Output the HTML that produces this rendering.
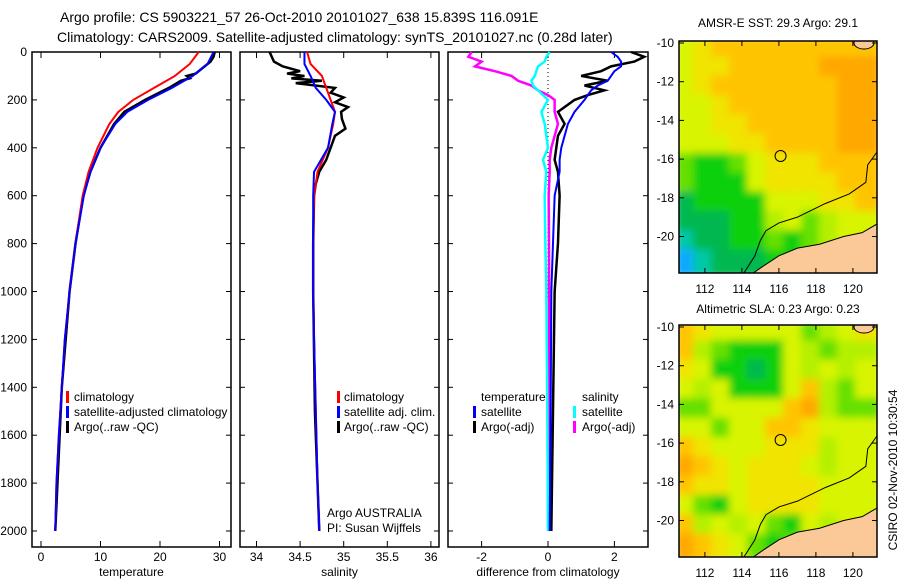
<!DOCTYPE html>
<html><head><meta charset="utf-8"><style>
body{margin:0;background:#fff}
svg{display:block;font-family:"Liberation Sans",sans-serif}
</style></head><body>
<svg id="s" width="900" height="580" viewBox="0 0 900 580">
<defs>
<clipPath id="c1"><rect x="679" y="41" width="198" height="232"/></clipPath>
<clipPath id="c2"><rect x="679" y="325" width="198" height="232"/></clipPath>
<clipPath id="cp1"><rect x="32" y="52" width="199" height="495"/></clipPath>
<filter id="bl"><feGaussianBlur stdDeviation="4"/></filter>
</defs>
<text x="60" y="22" font-size="14">Argo profile: CS 5903221_57 26-Oct-2010 20101027_638 15.839S 116.091E</text>
<text x="57" y="42" font-size="14">Climatology: CARS2009. Satellite-adjusted climatology: synTS_20101027.nc (0.28d later)</text>
<text x="778" y="27" font-size="12" text-anchor="middle">AMSR-E SST: 29.3 Argo: 29.1</text>
<text x="778" y="313" font-size="12" text-anchor="middle">Altimetric SLA: 0.23 Argo: 0.23</text>
<text transform="translate(897,470) rotate(-90)" font-size="12" text-anchor="middle">CSIRO 02-Nov-2010 10:30:54</text>
</svg>
<script>
const depthT=[0,50,100,150,200,250,300,400,500,600,800,1000,1200,1400,1600,1800,2000];
const tClim=[26.5,25,22.5,19,15.5,13,11.5,9.5,8,7,5.8,4.8,4,3.5,3,2.6,2.4];
const tSat=[29,28,25.5,22,18,14.5,12.5,10,8.3,7.2,5.8,4.8,4,3.5,3,2.6,2.4];
const depthTA=[0,20,40,60,90,100,110,120,150,200,250,300,400,500,600,800,1000,1400,2000];
const tArgo=[29.2,29,28.5,27.5,26,24.5,25,23.5,21.5,17.5,14,12.3,10,8.3,7.1,5.8,4.8,3.5,2.4];
const depthS=[0,50,100,150,200,250,300,400,500,600,800,1000,1200,1500,1800,2000];
const sClim=[34.58,34.62,34.75,34.8,34.85,34.9,34.88,34.82,34.7,34.66,34.65,34.65,34.66,34.68,34.7,34.72];
const sSat=[34.55,34.55,34.62,34.68,34.8,34.9,34.87,34.82,34.66,34.65,34.65,34.65,34.66,34.68,34.7,34.72];
const depthSA=[0,40,60,80,90,100,110,120,130,150,170,190,210,230,250,280,320,350,400,450,500,550,600,800,1000,1500,2000];
const sArgo=[34.15,34.2,34.3,34.5,34.35,34.55,34.4,34.75,34.45,34.9,34.85,35.0,34.9,35.05,34.97,34.98,35.02,34.9,34.85,34.8,34.72,34.68,34.66,34.65,34.65,34.67,34.72];
const depthD=[0,20,40,60,80,100,120,140,160,180,200,250,300,350,400,450,500,600,800,1000,1500,2000];
const dTSat=[1.9,2.1,2.2,2.2,2.0,1.9,1.8,1.5,1.3,1.2,1.1,0.8,0.6,0.5,0.4,0.35,0.35,0.2,0.15,0.1,0.08,0.05];
const dTArgo=[2.5,2.9,2.6,1.9,1.6,1.0,1.8,1.1,1.7,1.2,0.8,0.3,0.5,0.3,0.25,0.2,0.3,0.35,0.3,0.2,0.15,0.1];
const dSSat=[0.05,-0.05,-0.1,-0.3,-0.35,-0.4,-0.5,-0.45,-0.3,-0.15,0,-0.2,-0.1,-0.05,0,-0.15,-0.05,-0.1,-0.08,-0.05,-0.02,0];
const dSArgo=[-2.3,-2.4,-2.0,-2.2,-1.6,-1.1,-0.9,-0.5,-0.3,0,0.2,0.2,0.3,0.2,0.1,0.05,0.05,0.02,0.03,0.03,0.04,0.05];
const tTicks=[0,10,20,30], sTicks=[34,34.5,35,35.5,36], dTicks=[-2,0,2], yTicks=[0,200,400,600,800,1000,1200,1400,1600,1800,2000];
const mapX=[112,114,116,118,120], mapY=[-10,-12,-14,-16,-18,-20];
const sstGrid=["lYooooooooo","lYYoooooaaa","lYoooooooaa","llYooooooaa","llYYoooooaa","lllYYooooaa","gGGglYYYooo","gGGGlYYYYoo","dGGGGlllYYo","dddGGLlgLll","cddGGgGgLll","bcdddGGgLll"];
const slaGrid=["oYlllllgLlY","oLgGGGlLgLL","YlGGdGlLlLl","lLlGGGloLgl","gglllloaLgg","llgllooYlll","oYlllYYYLll","aoYlYYYlLll","oYYlYYYYlll","lgGlYYYYlll","oLlLlgGlLll","aoYlgGgLlll"];
const col={a:"#ffa800",o:"#ffc400",Y:"#f0e400",l:"#d8f400",L:"#b4f000",g:"#66e000",G:"#10d010",d:"#00b850",c:"#00c8a8",b:"#10a8ff"};
const shelf=[[121.4,-15.5],[120.8,-16.3],[120.7,-17.2],[119.8,-17.8],[118.5,-18.3],[117,-19],[116,-19.3],[115.3,-19.7],[115,-20.2],[114.7,-21],[114.1,-21.9]];
const land=[[121.4,-19.3],[120.5,-19.8],[119.5,-20.0],[118.2,-20.4],[117,-20.6],[116,-21],[115.2,-21.5],[114.6,-21.9],[121.4,-21.9]];
const argoPos=[116.09,-15.84];

const S=document.getElementById('s'),NS="http://www.w3.org/2000/svg";
function mk(t,a,p){const e=document.createElementNS(NS,t);for(const k in a)e.setAttribute(k,a[k]);(p||S).appendChild(e);return e;}
const Y=d=>52+d*0.2395;
function panel(x0,x1,sx,ticks,fmt,label,name,yl){
 const r=mk('rect',{x:x0,y:52,width:x1-x0,height:495,fill:'none',stroke:'#000','stroke-width':1.5});
 
 ticks.forEach(v=>{const x=sx(v);mk('line',{x1:x,x2:x,y1:547,y2:541,stroke:'#000'});mk('line',{x1:x,x2:x,y1:52,y2:58,stroke:'#000'});
  const t=mk('text',{x:x,y:561,'font-size':12,'text-anchor':'middle'});t.textContent=fmt(v);
  });
 yTicks.forEach(v=>{mk('line',{x1:x0,x2:x0+5,y1:Y(v),y2:Y(v),stroke:'#000'});mk('line',{x1:x1,x2:x1-5,y1:Y(v),y2:Y(v),stroke:'#000'});
  if(yl){const t=mk('text',{x:27,y:Y(v)+4,'font-size':12,'text-anchor':'end'});t.textContent=v;}});
 const t=mk('text',{x:(x0+x1)/2,y:576,'font-size':12,'text-anchor':'middle'});t.textContent=label;
 
}
function line(ds,vs,sx,c,w,name){
 const p=mk('polyline',{points:ds.map((d,i)=>sx(vs[i])+','+Y(d)).join(' '),fill:'none',stroke:c,'stroke-width':w});
 
}
function txt(x,y,s,name,c,p){const t=mk('text',{x:x,y:y,'font-size':12,fill:c||'#000'},p);t.textContent=s;}
function bar(x,y,c){mk('rect',{x:x,y:y-10,width:3,height:12,fill:c});}

const sxT=v=>41+v*5.95, sxS=v=>256.5+(v-34)*87.2, sxD=v=>548+v*33.2;
panel(32,231,sxT,tTicks,v=>v,'temperature','temp-panel',true);
panel(240,439,sxS,sTicks,v=>v,'salinity','sal-panel',false);
panel(448,648,sxD,dTicks,v=>v,'difference from climatology','diff-panel',false);
mk('line',{x1:548,x2:548,y1:52,y2:300,stroke:'#000','stroke-dasharray':'1,3'});

line(depthTA,tArgo,sxT,'#000',2.5,'temp-argo-line');
line(depthT,tClim,sxT,'#f00',2,'temp-climatology-line');
line(depthT,tSat,sxT,'#00f',2,'temp-satellite-line');
line(depthSA,sArgo,sxS,'#000',2.5,'sal-argo-line');
line(depthS,sClim,sxS,'#f00',2,'sal-climatology-line');
line(depthS,sSat,sxS,'#00f',2,'sal-satellite-line');
line(depthD,dSArgo,sxD,'#f0f',2.5,'diff-sal-argo-line');
line(depthD,dSSat,sxD,'#0ff',2.5,'diff-sal-satellite-line');
line(depthD,dTArgo,sxD,'#000',2.5,'diff-temp-argo-line');
line(depthD,dTSat,sxD,'#00f',2,'diff-temp-satellite-line');

const lg=mk('g',{'clip-path':'url(#cp1)'});
bar(66,401,'#f00');txt(74,401,'climatology','legend-climatology',null,lg);
bar(66,416,'#00f');txt(74,416,'satellite-adjusted climatology','legend-satellite',null,lg);
bar(66,431,'#000');txt(74,431,'Argo(..raw -QC)','legend-argo',null,lg);
bar(337,401,'#f00');txt(344,401,'climatology','sal-legend-climatology');
bar(337,416,'#00f');txt(344,416,'satellite adj. clim.','sal-legend-satellite');
bar(337,431,'#000');txt(344,431,'Argo(..raw -QC)','sal-legend-argo');
txt(327,517,'Argo AUSTRALIA','argo-australia-label');txt(327,532,'PI: Susan Wijffels','pi-label');
txt(481,401,'temperature','diff-legend-temperature');
bar(473,416,'#00f');txt(481,416,'satellite','diff-legend-temp-satellite');
bar(473,431,'#000');txt(481,431,'Argo(-adj)','diff-legend-temp-argo');
txt(582,401,'salinity','diff-legend-salinity');
bar(573,416,'#0ff');txt(582,416,'satellite','diff-legend-sal-satellite');
bar(573,431,'#f0f');txt(582,431,'Argo(-adj)','diff-legend-sal-argo');

function map(top,grid,clip,name){
 const mx=v=>679+(v-110.6)*18.5, my=v=>top+(-10-v)*19.35+2;
 const g=mk('g',{'clip-path':'url(#'+clip+')'});
 const gb=mk('g',{filter:'url(#bl)'},g);
 const cw=198/11,ch=232/12;
 grid.forEach((row,r)=>{for(let c=0;c<row.length;c++)mk('rect',{x:679+c*cw-4,y:top+r*ch-4,width:cw+8,height:ch+8,fill:col[row[c]]},gb);});
 mk('polyline',{points:shelf.map(p=>mx(p[0])+','+my(p[1])).join(' '),fill:'none',stroke:'#000','stroke-width':1},g);
 mk('polygon',{points:land.map(p=>mx(p[0])+','+my(p[1])).join(' '),fill:'#fbc898',stroke:'#000','stroke-width':1},g);
 mk('ellipse',{cx:mx(120.6),cy:top+2,rx:10,ry:6,fill:'#fbc898',stroke:'#000'},g);
 const ci=mk('circle',{cx:mx(argoPos[0]),cy:my(argoPos[1]),r:5.5,fill:'none',stroke:'#000','stroke-width':1});
 
 mk('rect',{x:679,y:top,width:198,height:232,fill:'none',stroke:'#000','stroke-width':1.5});
 mapX.forEach(v=>{const x=mx(v);mk('line',{x1:x,x2:x,y1:top+232,y2:top+227,stroke:'#000'});mk('line',{x1:x,x2:x,y1:top,y2:top+5,stroke:'#000'});
  const t=mk('text',{x:x,y:top+252,'font-size':12,'text-anchor':'middle'});t.textContent=v;});
 mapY.forEach(v=>{const y=my(v);mk('line',{x1:679,x2:684,y1:y,y2:y,stroke:'#000'});mk('line',{x1:877,x2:872,y1:y,y2:y,stroke:'#000'});
  const t=mk('text',{x:674,y:y+4,'font-size':12,'text-anchor':'end'});t.textContent=v;});
}
map(41,sstGrid,'c1','sst-map');
map(325,slaGrid,'c2','sla-map');
</script>
</body></html>
